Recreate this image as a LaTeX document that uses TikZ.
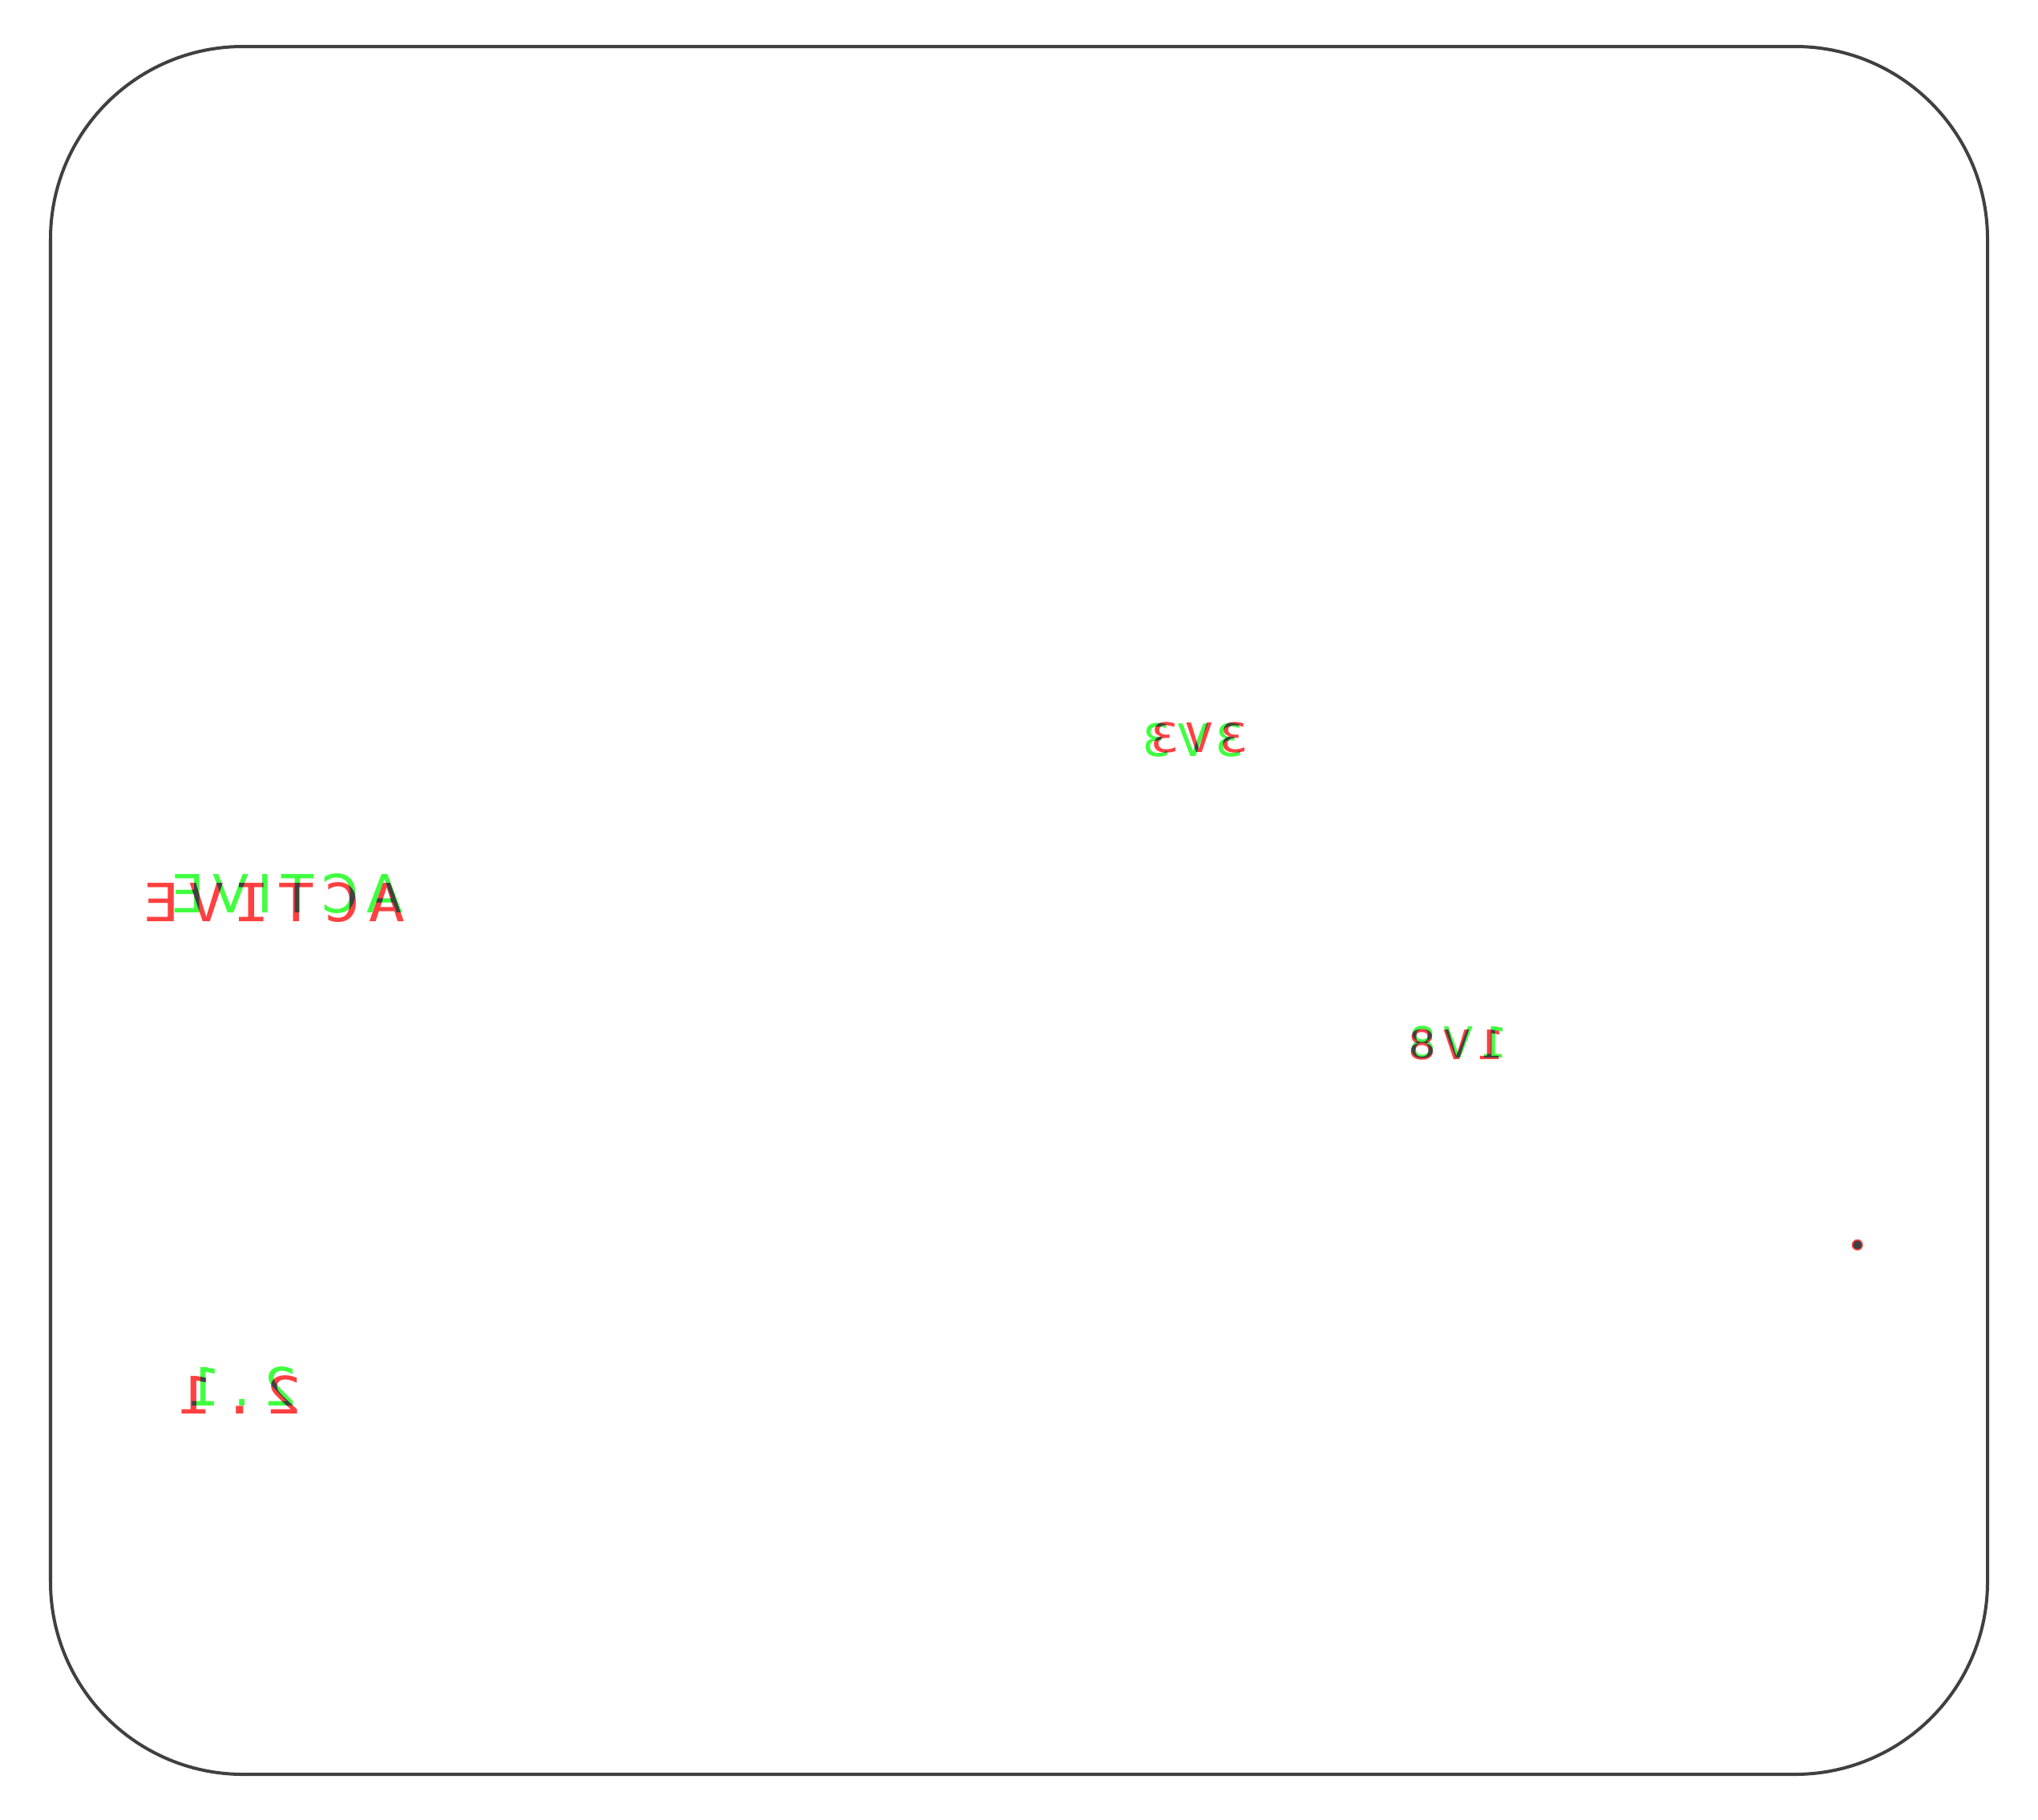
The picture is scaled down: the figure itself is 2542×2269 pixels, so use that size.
\documentclass[tikz,border=0pt]{standalone}
\usepackage{fontspec}
\newfontfamily\redfont{DejaVu Sans Mono}
\newfontfamily\greenfont{DejaVu Sans}
\definecolor{silkred}{HTML}{FF4040}
\definecolor{silkgreen}{HTML}{40FF40}
\definecolor{framegray}{HTML}{404040}
\tikzset{
  frameline/.style={draw=framegray, line width=0.04cm, rounded corners=2.4cm},
  redtxt/.style={text=silkred, inner sep=0pt, outer sep=0pt, anchor=center},
  greentxt/.style={text=silkgreen, inner sep=0pt, outer sep=0pt, anchor=center},
}
\begin{document}
\begin{tikzpicture}[x=0.01cm,y=-0.01cm]
\useasboundingbox (0,0) rectangle (2542,2269);
\draw[frameline] (63,58) rectangle (2479,2213);
\begin{scope}[blend mode=darken]
  % red layer
  \node[redtxt, xscale=-1.15, font={\redfont\fontsize{18.7}{20}\selectfont\addfontfeatures{LetterSpace=14}}] (activeR) at (342,1126) {ACTIVE};
  \node[redtxt, xscale=-1.15, font={\redfont\fontsize{14.4}{16}\selectfont\addfontfeatures{LetterSpace=14}}] (v33R) at (1496,920) {3V3};
  \node[redtxt, xscale=-1.15, font={\redfont\fontsize{14.4}{16}\selectfont\addfontfeatures{LetterSpace=14}}] (v18R) at (1817,1303) {1V8};
  \node[redtxt, xscale=-1.15, font={\redfont\fontsize{18.3}{20}\selectfont\addfontfeatures{LetterSpace=14}}] (twoR) at (299,1740) {2.1};
  \fill[silkred] (2316.7,1552.7) circle (7) coordinate (dotR);
  % green layer
  \node[greentxt, xscale=-1, font={\greenfont\fontsize{18.7}{20}\selectfont\addfontfeatures{LetterSpace=16}}] (activeG) at (358,1115) {ACTIVE};
  \node[greentxt, xscale=-1, font={\greenfont\fontsize{15.9}{17}\selectfont\addfontfeatures{LetterSpace=15}}] (v33G) at (1488,923) {3V3};
  \node[greentxt, xscale=-1, font={\greenfont\fontsize{15.2}{17}\selectfont\addfontfeatures{LetterSpace=18}}] (v18G) at (1819,1300) {1V8};
  \node[greentxt, xscale=-1, font={\greenfont\fontsize{18.7}{20}\selectfont\addfontfeatures{LetterSpace=24}}] (twoG) at (302,1729) {2.1};
  \fill[silkgreen] (2316.7,1552.7) circle (5.5) coordinate (dotG);
\end{scope}
\end{tikzpicture}
\end{document}
